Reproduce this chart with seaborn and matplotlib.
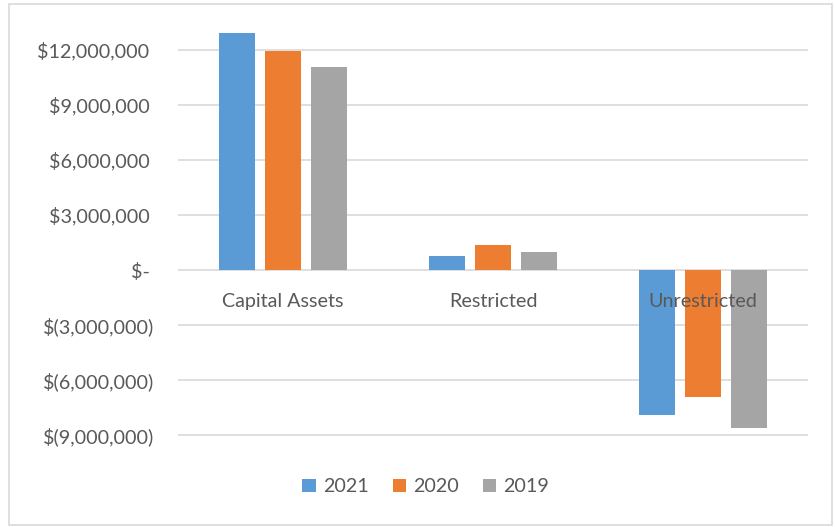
import pandas as pd
import numpy as np
import matplotlib.pyplot as plt
import seaborn as sns
from matplotlib.patches import Rectangle
from matplotlib.ticker import FuncFormatter

sns.set_style("white")
plt.rcParams["font.family"] = ["Lato", "DejaVu Sans"]

categories = ["Capital Assets", "Restricted", "Unrestricted"]
years = ["2021", "2020", "2019"]
values_2021 = [12_930_000, 780_000, -7_920_000]
values_2020 = [11_970_000, 1_350_000, -6_940_000]
values_2019 = [11_090_000, 1_010_000, -8_600_000]
yticks = [-9_000_000, -6_000_000, -3_000_000, 0, 3_000_000, 6_000_000, 9_000_000, 12_000_000]
colors = ["#5B9BD5", "#ED7D31", "#A5A5A5"]
text_color = "#595959"

df = pd.DataFrame({
    "category": categories * 3,
    "year": [years[0]] * 3 + [years[1]] * 3 + [years[2]] * 3,
    "value": values_2021 + values_2020 + values_2019,
})

fig = plt.figure(figsize=(8.35, 5.27), dpi=100)
ax = fig.add_axes([0.2132, 0.1675, 0.7545, 0.7898])

sns.barplot(data=df, x="category", y="value", hue="year", hue_order=years,
            palette=colors, saturation=1, width=0.66, gap=0.22, linewidth=0,
            ax=ax, zorder=2)

ax.set_ylim(-9_200_000, 13_500_000)
ax.set_xlim(-0.5, 2.5)
ax.set_yticks(yticks)

def money(v, pos):
    if v == 0:
        return "$- "
    if v < 0:
        return "$({:,.0f})".format(-v)
    return "${:,.0f} ".format(v)

ax.yaxis.set_major_formatter(FuncFormatter(money))
ax.tick_params(axis="y", length=0, pad=17, labelsize=14.2, labelcolor=text_color)
ax.tick_params(axis="x", length=0, labelbottom=False)
ax.yaxis.grid(True, color="#D9D9D9", linewidth=1.2, zorder=0)
ax.set_axisbelow(True)
for s in ax.spines.values():
    s.set_visible(False)
ax.set_xlabel("")
ax.set_ylabel("")

# category labels sit just under the zero line, drawn over the bars
for i, cat in enumerate(categories):
    ax.annotate(cat, xy=(i, 0), xytext=(0, -23), textcoords="offset points",
                ha="center", va="center", fontsize=14.2, color=text_color,
                zorder=5)

handles, labels = ax.get_legend_handles_labels()
ax.get_legend().remove()
fig.legend(handles, labels, loc="center", bbox_to_anchor=(0.51, 0.076), ncol=3,
           frameon=False, fontsize=14.2, labelcolor=text_color,
           handlelength=0.7, handleheight=0.7, handletextpad=0.35,
           columnspacing=1.2)

fig.patches.append(Rectangle((0.011, 0.004), 0.986, 0.988, transform=fig.transFigure,
                             fill=False, edgecolor="#D9D9D9", linewidth=1.2))

fig.savefig("out.png", dpi=100, facecolor="white")
